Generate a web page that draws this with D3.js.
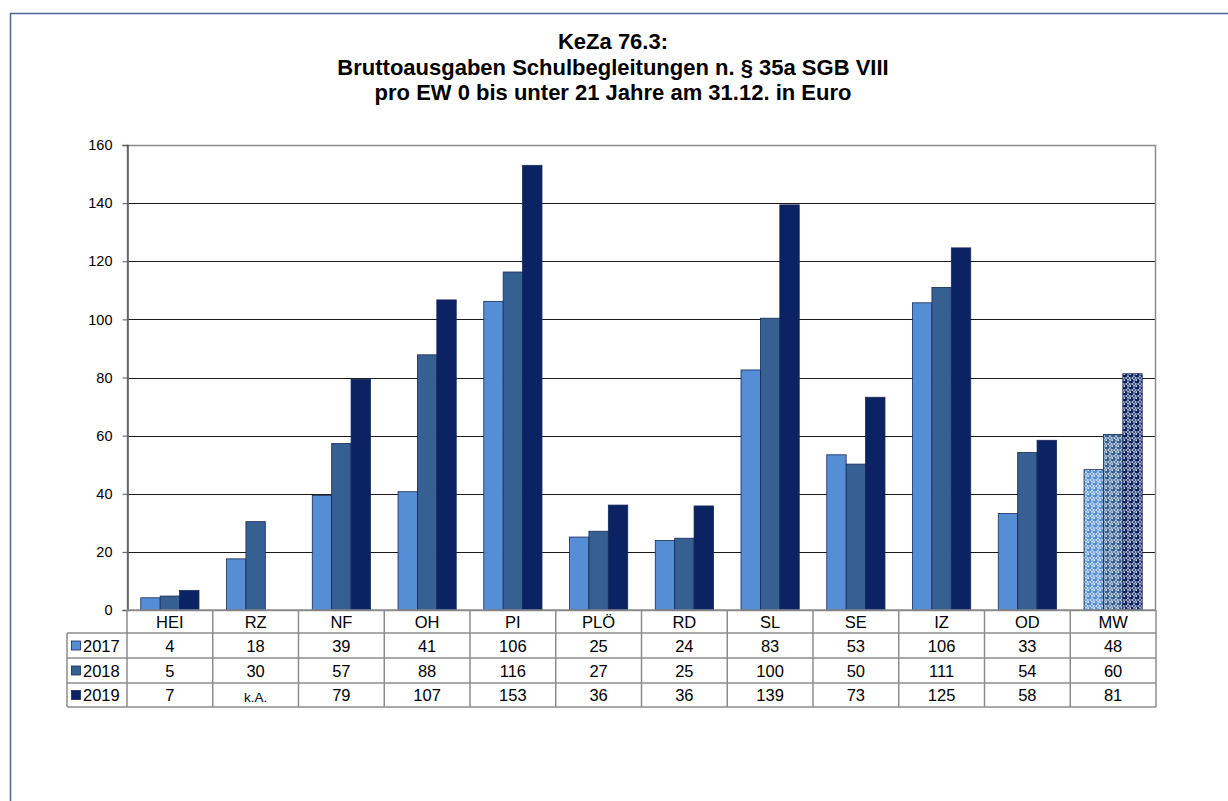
<!DOCTYPE html>
<html><head><meta charset="utf-8">
<script src="https://cdn.jsdelivr.net/npm/d3@7"></script>
<style>body{margin:0;background:#fff;} svg{display:block;font-family:"Liberation Sans",Arial,sans-serif;}</style>
</head><body><svg id="c" width="1228" height="801"></svg>
<script>
const titleLines = ["KeZa 76.3:", "Bruttoausgaben Schulbegleitungen n. § 35a SGB VIII", "pro EW 0 bis unter 21 Jahre am 31.12. in Euro"];
const categories = ["HEI","RZ","NF","OH","PI","PLÖ","RD","SL","SE","IZ","OD","MW"];
const years = ["2017","2018","2019"];
const v2017 = [4.2, 17.6, 39.4, 40.7, 106.2, 25.1, 23.9, 82.6, 53.4, 105.7, 33.2, 48.3];
const v2018 = [4.8, 30.4, 57.3, 87.8, 116.3, 27.1, 24.7, 100.4, 50.2, 111.0, 54.2, 60.4];
const v2019 = [6.7, null, 79.4, 106.7, 153.0, 36.1, 35.8, 139.4, 73.2, 124.6, 58.4, 81.3];
const yTicks = [0,20,40,60,80,100,120,140,160];
const missingLabel = "k.A.";
const colors = ["#558ed5","#376092","#0b2263"];

const series = [v2017, v2018, v2019];
const svg = d3.select("#c");

// outer frame
svg.append("rect").attr("x",10.5).attr("y",13.5).attr("width",1400).attr("height",1000)
  .attr("fill","none").attr("stroke","#4a6596").attr("stroke-width",1.5);

// title
const title = svg.append("text").attr("text-anchor","middle").attr("font-weight","bold").attr("font-size",22).attr("fill","#000");
titleLines.forEach((t,i)=> title.append("tspan").attr("x",613).attr("y",49+i*25.5).text(t));

const L=127, R=1156, T=145, B=610;
const x0 = d3.scaleBand().domain(categories).range([L,R]).padding(0);
const x1 = d3.scaleBand().domain(years).range([0,x0.bandwidth()]).paddingInner(0).paddingOuter(0.71);
const y = d3.scaleLinear().domain([0,160]).range([B,T]);

// patterns for MW
const defs = svg.append("defs");
colors.forEach((c,i)=>{
  const p = defs.append("pattern").attr("id","pat"+i).attr("patternUnits","userSpaceOnUse").attr("width",6).attr("height",6);
  p.append("rect").attr("width",6).attr("height",6).attr("fill","#fff");
  p.append("circle").attr("cx",3).attr("cy",3).attr("r",2.7).attr("fill",c);
  p.append("circle").attr("cx",0).attr("cy",0).attr("r",1.1).attr("fill",c);
  p.append("circle").attr("cx",6).attr("cy",0).attr("r",1.1).attr("fill",c);
  p.append("circle").attr("cx",0).attr("cy",6).attr("r",1.1).attr("fill",c);
  p.append("circle").attr("cx",6).attr("cy",6).attr("r",1.1).attr("fill",c);
  p.append("circle").attr("cx",2.2).attr("cy",2.1).attr("r",0.9).attr("fill","#fff");
});

// gridlines
svg.append("g").selectAll("line").data(yTicks.filter(d=>d>0 && d<160)).join("line")
  .attr("x1",L).attr("x2",R).attr("y1",d=>Math.round(y(d))+0.5).attr("y2",d=>Math.round(y(d))+0.5)
  .attr("stroke","#1a1a1a").attr("stroke-width",1);

// plot border
svg.append("rect").attr("x",L+0.5).attr("y",T+0.5).attr("width",R-L-1).attr("height",B-T)
  .attr("fill","none").attr("stroke","#8a8a8a").attr("stroke-width",1.5);

// bars
const bars = [];
categories.forEach((c,ci)=> years.forEach((yr,si)=>{
  const v = series[si][ci];
  if (v!=null) bars.push({c, yr, si, v});
}));
svg.append("g").selectAll("rect").data(bars).join("rect")
  .attr("x",d=>x0(d.c)+x1(d.yr))
  .attr("width",x1.bandwidth())
  .attr("y",d=>y(d.v))
  .attr("height",d=>B-y(d.v))
  .attr("fill",d=> d.c==="MW" ? `url(#pat${d.si})` : colors[d.si])
  .attr("stroke","#17285a").attr("stroke-width",0.8);

// y axis
const ax = svg.append("g").attr("transform",`translate(${L+0.5},0)`)
  .call(d3.axisLeft(y).tickValues(yTicks).tickSize(5).tickPadding(10).tickFormat(d3.format("d")));
ax.select(".domain").attr("stroke","#5a5a5a").attr("stroke-width",1.5);
ax.selectAll(".tick line").attr("stroke","#5a5a5a");
ax.selectAll(".tick text").attr("font-size",14.5).attr("fill","#000").attr("font-family","Liberation Sans, Arial, sans-serif");

// data table
const rowY = [610, 633, 658, 683, 707];
const tLeft = 67;
const tg = svg.append("g");
const lineC = "#8c8c8c";
const fs = 16.5;
tg.append("line").attr("x1",L).attr("x2",R).attr("y1",rowY[0]).attr("y2",rowY[0]).attr("stroke",lineC).attr("stroke-width",1.5);
rowY.slice(1).forEach(yy=> tg.append("line").attr("x1",tLeft).attr("x2",R).attr("y1",yy).attr("y2",yy).attr("stroke",lineC).attr("stroke-width",1.5));
categories.forEach(c=> tg.append("line").attr("x1",x0(c)).attr("x2",x0(c)).attr("y1",rowY[0]).attr("y2",rowY[4]).attr("stroke",lineC).attr("stroke-width",1.5));
tg.append("line").attr("x1",R).attr("x2",R).attr("y1",rowY[0]).attr("y2",rowY[4]).attr("stroke",lineC).attr("stroke-width",1.5);
tg.append("line").attr("x1",tLeft).attr("x2",tLeft).attr("y1",rowY[1]).attr("y2",rowY[4]).attr("stroke",lineC).attr("stroke-width",1.5);

tg.selectAll("text.cat").data(categories).join("text").attr("class","cat")
  .attr("x",d=>x0(d)+x0.bandwidth()/2).attr("y",(rowY[0]+rowY[1])/2+6)
  .attr("text-anchor","middle").attr("font-size",fs).text(d=>d);

years.forEach((yr,si)=>{
  const yc = (rowY[si+1]+rowY[si+2])/2;
  tg.append("rect").attr("x",71.5).attr("y",yc-4.5).attr("width",9).attr("height",9)
    .attr("fill",colors[si]).attr("stroke","#17285a").attr("stroke-width",0.8);
  tg.append("text").attr("x",83).attr("y",yc+6).attr("font-size",fs).text(yr);
  tg.selectAll(null).data(categories).join("text")
    .attr("x",d=>x0(d)+x0.bandwidth()/2).attr("y",(d,ci)=> series[si][ci]==null ? yc+7 : yc+6)
    .attr("text-anchor","middle")
    .attr("font-size",(d,ci)=> series[si][ci]==null ? 13.5 : fs)
    .text((d,ci)=> series[si][ci]==null ? missingLabel : String(Math.round(series[si][ci])));
});
</script></body></html>
